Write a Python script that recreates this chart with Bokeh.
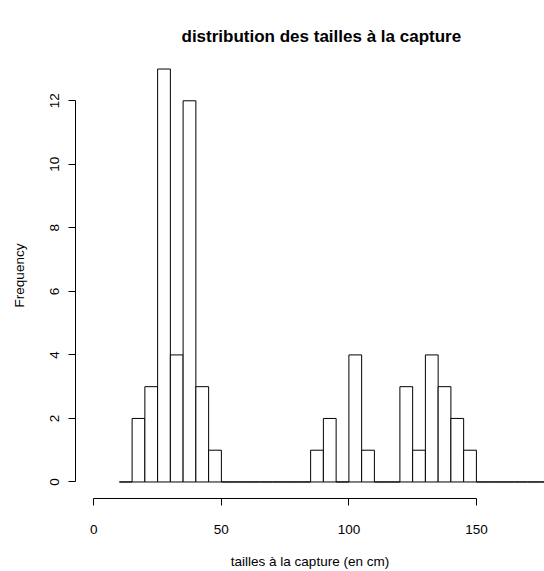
from bokeh.plotting import figure
from bokeh.models import FixedTicker, Range1d
from bokeh.embed import file_html
from bokeh.resources import INLINE

# bin edges (cm) and counts
bin_left = [10, 15, 20, 25, 30, 35, 40, 45, 50, 55, 60, 65, 70, 75, 80, 85, 90,
            95, 100, 105, 110, 115, 120, 125, 130, 135, 140, 145, 150, 155, 160,
            165, 170, 175]
bin_right = [15, 20, 25, 30, 35, 40, 45, 50, 55, 60, 65, 70, 75, 80, 85, 90, 95,
             100, 105, 110, 115, 120, 125, 130, 135, 140, 145, 150, 155, 160, 165,
             170, 175, 180]
counts = [0, 2, 3, 13, 4, 12, 3, 1, 0, 0, 0, 0, 0, 0, 0, 1, 2,
          0, 4, 1, 0, 0, 3, 1, 4, 3, 2, 1, 0, 0, 0,
          0, 0, 0]
x_ticks = [0, 50, 100, 150]
y_ticks = [0, 2, 4, 6, 8, 10, 12]
xlim = (0, 180)
ylim = (0, 13)

FONT = "Liberation Sans"

x_pad = 0.04 * (xlim[1] - xlim[0])
y_pad = 0.04 * (ylim[1] - ylim[0])

p = figure(width=544, height=571, output_backend="svg", toolbar_location=None,
           x_range=Range1d(xlim[0] - x_pad, 176.7),
           y_range=Range1d(ylim[0] - y_pad, ylim[1] + y_pad),
           min_border_left=75, min_border_right=0, min_border_top=52,
           min_border_bottom=72)

p.quad(left=bin_left, right=bin_right, top=counts, bottom=0,
       fill_color="white", line_color="black", line_width=1)

p.title.text = "distribution des tailles à la capture"
p.title.align = "left"
p.title.offset = 106
p.title.text_font = FONT
p.title.text_font_size = "17px"
p.title.text_font_style = "bold"
p.title.text_color = "black"
p.title.standoff = 14

p.grid.visible = False
p.outline_line_color = None
p.background_fill_color = "white"
p.border_fill_color = "white"

xa = p.xaxis[0]
xa.ticker = FixedTicker(ticks=x_ticks)
xa.bounds = (0, 150)
xa.axis_label = "tailles à la capture (en cm)"
ya = p.yaxis[0]
ya.ticker = FixedTicker(ticks=y_ticks)
ya.bounds = (0, 12)
ya.axis_label = "Frequency"
ya.major_label_orientation = "vertical"

for ax in (xa, ya):
    ax.major_tick_out = 7
    ax.major_tick_in = 0
    ax.minor_tick_out = 0
    ax.minor_tick_in = 0
    ax.axis_line_color = "black"
    ax.major_tick_line_color = "black"
    ax.major_label_text_font = FONT
    ax.major_label_text_font_size = "13.5px"
    ax.major_label_text_color = "black"
    ax.axis_label_text_font = FONT
    ax.axis_label_text_font_size = "13.5px"
    ax.axis_label_text_font_style = "normal"
    ax.axis_label_text_color = "black"

xa.major_label_standoff = 19
xa.axis_label_standoff = 17
ya.major_label_standoff = 9
ya.axis_label_standoff = 21

open("out.html", "w").write(file_html(p, INLINE))
